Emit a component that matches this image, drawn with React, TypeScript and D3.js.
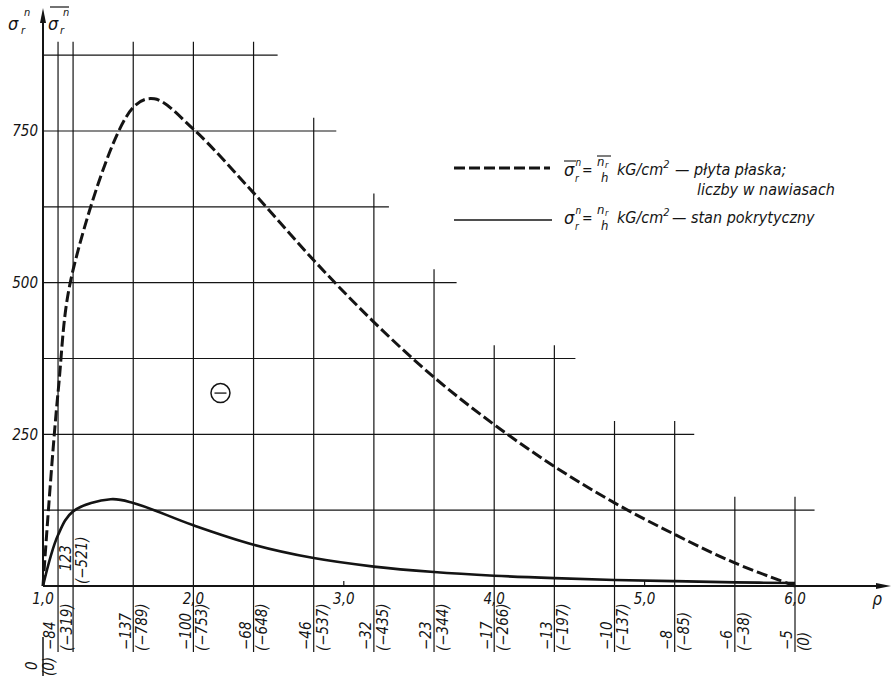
import React from 'react';
import * as d3 from 'd3';

// stations (rho) and the values written under them
const rho = [1.0, 1.1, 1.2, 1.6, 2.0, 2.4, 2.8, 3.2, 3.6, 4.0, 4.4, 4.8, 5.2, 5.6, 6.0];
const sigmaPost = [0, -84, -123, -137, -100, -68, -46, -32, -23, -17, -13, -10, -8, -6, -5];
const sigmaPlate = [0, -319, -521, -789, -753, -648, -537, -435, -344, -266, -197, -137, -85, -38, 0];
const postLabels = ['0', '−84', '123', '−137', '−100', '−68', '−46', '−32', '−23', '−17', '−13', '−10', '−8', '−6', '−5'];
const plateLabels = ['(0)', '(−319)', '(−521)', '(−789)', '(−753)', '(−648)', '(−537)', '(−435)', '(−344)', '(−266)', '(−197)', '(−137)', '(−85)', '(−38)', '(0)'];

// crests of the drawn curves (between stations)
const plateCrest: [number, number] = [1.74, 803];
const postCrest: [number, number] = [1.45, 143];

const xTicks = [1, 2, 3, 4, 5, 6];
const xTickLabels = ['1,0', '2,0', '3,0', '4,0', '5,0', '6,0'];
const yTicks = [250, 500, 750];
const yTickLabels = ['250', '500', '750'];
const gridLevels = [125, 250, 375, 500, 625, 750, 875];
// how far right each horizontal grid line runs (rho)
const gridEnd = [6.13, 5.33, 4.54, 3.75, 3.3, 2.95, 2.56];

const W = 893;
const H = 677;
const FONT = "'DejaVu Sans Condensed', 'Liberation Sans Narrow', 'DejaVu Sans', sans-serif";
const INK = '#141414';

const x = d3.scaleLinear().domain([1, 6]).range([43, 795]);
const y = d3.scaleLinear().domain([0, 750]).range([586, 131]);

const line = d3.line<[number, number]>()
  .x(d => x(d[0]))
  .y(d => y(d[1]))
  .curve(d3.curveCatmullRom.alpha(0.5));

const withCrest = (vals: number[], crest: [number, number]) => {
  const pts: [number, number][] = rho.map((r, i) => [r, Math.abs(vals[i])]);
  pts.push(crest);
  return pts.sort((a, b) => a[0] - b[0]);
};
const plateData = withCrest(sigmaPlate, plateCrest);
const postData = withCrest(sigmaPost, postCrest);

const lineTop = (r: number) => {
  let top = 0;
  gridLevels.forEach((g, i) => {
    if (gridEnd[i] >= r - 1e-6 && g > top) top = g;
  });
  return top + 22;
};

const txt = { fontFamily: FONT, fontStyle: 'italic', fontStretch: 'condensed' } as React.CSSProperties;

const RotLabel = ({ cx, yb, text }: { cx: number; yb: number; text: string }) => (
  <text transform={`translate(${cx},${yb}) rotate(-90)`} dy="0.36em" fontSize={15} style={txt} fill={INK}>
    {text}
  </text>
);

export default function App() {
  const axisY = y(0);
  return (
    <svg width={W} height={H} style={{ position: 'absolute', left: 0, top: 0, background: '#fff' }}>
      <rect width={W} height={H} fill="#fff" />

      {/* horizontal grid */}
      {gridLevels.map((g, i) => (
        <line key={'h' + g} x1={x(1)} x2={x(gridEnd[i])} y1={y(g)} y2={y(g)} stroke={INK} strokeWidth={1.1} />
      ))}

      {/* vertical station lines */}
      {rho.slice(1).map(r => (
        <line key={'v' + r} x1={x(r)} x2={x(r)} y1={y(lineTop(r))} y2={652} stroke={INK} strokeWidth={1.2} />
      ))}

      {/* axes */}
      <line x1={x(1)} x2={x(1)} y1={axisY} y2={18} stroke={INK} strokeWidth={2} />
      <polygon points={`${x(1)},8 ${x(1) - 3},23 ${x(1) + 3},23`} fill={INK} />
      <line x1={x(1)} x2={x(1)} y1={637} y2={676} stroke={INK} strokeWidth={1.5} />
      <line x1={x(1)} x2={880} y1={axisY} y2={axisY} stroke={INK} strokeWidth={2} />
      <polygon points={`891,${axisY} 876,${axisY - 3} 876,${axisY + 3}`} fill={INK} />
      {[3, 5].map(t => (
        <line key={'t' + t} x1={x(t)} x2={x(t)} y1={axisY} y2={axisY - 5} stroke={INK} strokeWidth={1.2} />
      ))}

      {/* axis labels */}
      {xTicks.map((t, i) => (
        <text key={'xt' + t} x={x(t)} y={604} textAnchor="middle" fontSize={15} style={txt} fill={INK}>
          {xTickLabels[i]}
        </text>
      ))}
      <text x={877} y={605} textAnchor="middle" fontSize={17} style={txt} fill={INK}>ρ</text>
      {yTicks.map((t, i) => (
        <text key={'yt' + t} x={38} y={y(t)} dy="0.36em" textAnchor="end" fontSize={15} style={txt} fill={INK}>
          {yTickLabels[i]}
        </text>
      ))}

      {/* y axis titles */}
      <text x={8} y={30} fontSize={18} style={txt} fill={INK}>σ</text>
      <text x={24} y={16} fontSize={11} style={txt} fill={INK}>n</text>
      <text x={21} y={34} fontSize={11} style={txt} fill={INK}>r</text>
      <text x={48} y={30} fontSize={18} style={txt} fill={INK}>σ</text>
      <text x={63} y={16} fontSize={11} style={txt} fill={INK}>n</text>
      <text x={60} y={34} fontSize={11} style={txt} fill={INK}>r</text>
      <line x1={50} x2={69} y1={7} y2={7} stroke={INK} strokeWidth={1.2} />

      {/* station values */}
      {rho.map((r, i) => {
        if (i === 0) {
          return (
            <g key={'lab' + r}>
              <RotLabel cx={32} yb={670} text={postLabels[i]} />
              <RotLabel cx={49} yb={676} text={plateLabels[i]} />
            </g>
          );
        }
        if (r === 1.2) {
          return (
            <g key={'lab' + r}>
              <RotLabel cx={x(r) - 7.5} yb={571} text={postLabels[i]} />
              <RotLabel cx={x(r) + 8.5} yb={584} text={plateLabels[i]} />
            </g>
          );
        }
        return (
          <g key={'lab' + r}>
            <RotLabel cx={x(r) - 8} yb={650} text={postLabels[i]} />
            <RotLabel cx={x(r) + 8.5} yb={651} text={plateLabels[i]} />
          </g>
        );
      })}

      {/* curves */}
      <path d={line(plateData) || ''} fill="none" stroke={INK} strokeWidth={3} strokeDasharray="11,4" />
      <path d={line(postData) || ''} fill="none" stroke={INK} strokeWidth={2.6} />

      {/* minus sign in circle */}
      <g transform={`translate(${x(2.18)},${y(318)})`}>
        <circle r={9.5} fill="none" stroke={INK} strokeWidth={1.5} />
        <line x1={-6} x2={6} y1={0} y2={0} stroke={INK} strokeWidth={1.3} />
      </g>

      {/* legend */}
      <line x1={454} x2={550} y1={168} y2={168} stroke={INK} strokeWidth={3} strokeDasharray="11,4" />
      <line x1={454} x2={552} y1={220} y2={220} stroke={INK} strokeWidth={1.6} />

      <g fill={INK}>
        <text x={564} y={176} fontSize={18} style={txt}>σ</text>
        <line x1={564} x2={576} y1={161} y2={161} stroke={INK} strokeWidth={1.1} />
        <text x={575.5} y={166} fontSize={10} style={txt}>n</text>
        <text x={575} y={182} fontSize={10} style={txt}>r</text>
        <text x={582} y={175} fontSize={14} style={txt}>=</text>
        <text x={597} y={166} fontSize={13} style={txt}>n</text>
        <text x={605} y={168} fontSize={9} style={txt}>r</text>
        <line x1={597} x2={611} y1={156} y2={156} stroke={INK} strokeWidth={1.1} />
        <text x={601} y={182} fontSize={13} style={txt}>h</text>
        <text x={617} y={175} fontSize={16} style={txt}>
          kG/cm<tspan dy={-7} fontSize={11}>2</tspan>
        </text>
        <text x={675} y={175} fontSize={16} style={txt}>— płyta płaska;</text>
        <text x={697} y={195} fontSize={16} style={txt}>liczby w nawiasach</text>

        <text x={564} y={224} fontSize={18} style={txt}>σ</text>
        <text x={575.5} y={214} fontSize={10} style={txt}>n</text>
        <text x={575} y={230} fontSize={10} style={txt}>r</text>
        <text x={582} y={223} fontSize={14} style={txt}>=</text>
        <text x={597} y={214} fontSize={13} style={txt}>n</text>
        <text x={605} y={216} fontSize={9} style={txt}>r</text>
        <text x={601} y={230} fontSize={13} style={txt}>h</text>
        <text x={617} y={223} fontSize={16} style={txt}>
          kG/cm<tspan dy={-7} fontSize={11}>2</tspan>
        </text>
        <text x={672} y={223} fontSize={16} style={txt}>— stan pokrytyczny</text>
      </g>
    </svg>
  );
}
